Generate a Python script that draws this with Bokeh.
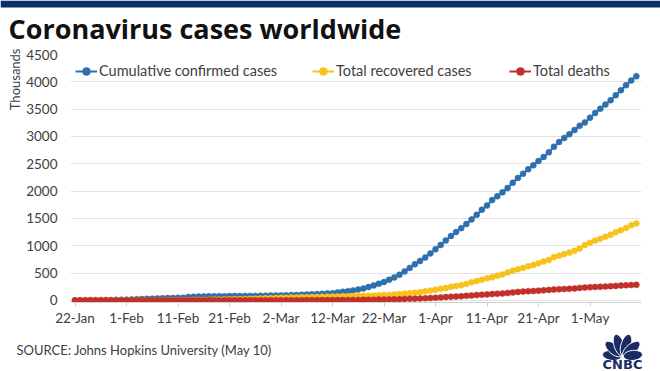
import math
from bokeh.plotting import figure
from bokeh.layouts import column
from bokeh.models import (ColumnDataSource, Legend, LegendItem, FixedTicker, Range1d, Title)
from bokeh.core.properties import value
from bokeh.embed import file_html
from bokeh.resources import INLINE

# ---------------- data (thousands, daily 22-Jan .. 10-May) ----------------
tick_days = [0, 10, 20, 30, 40, 50, 60, 70, 80, 90, 100]
tick_labels = ["22-Jan", "1-Feb", "11-Feb", "21-Feb", "2-Mar", "12-Mar",
               "22-Mar", "1-Apr", "11-Apr", "21-Apr", "1-May"]
y_ticks = [0, 500, 1000, 1500, 2000, 2500, 3000, 3500, 4000, 4500]

confirmed_jan = [0.555, 0.654, 0.941, 1.434, 2.118, 2.927, 5.578, 6.166, 8.234, 9.927]
confirmed_feb = [12.038, 16.787, 19.881, 23.892, 27.635, 30.794, 34.391, 37.120, 40.150, 42.762,
                 44.802, 45.221, 60.368, 66.885, 69.030, 71.224, 73.258, 75.136, 75.639, 76.197,
                 76.819, 78.572, 78.958, 79.561, 80.406, 81.388, 82.746, 84.112, 86.011]
confirmed_mar = [88.369, 90.306, 92.840, 95.120, 97.886, 101.801, 105.847, 109.821, 113.590, 118.620,
                 125.875, 128.352, 145.205, 156.101, 167.454, 181.574, 197.102, 214.821, 242.570, 272.208,
                 304.507, 336.953, 378.235, 418.045, 467.653, 529.591, 593.291, 660.706, 720.117, 782.365,
                 857.487]
confirmed_apr = [932.605, 1013.466, 1095.917, 1176.060, 1249.754, 1321.481, 1396.476, 1480.202, 1565.278, 1657.526,
                 1735.650, 1834.721, 1904.838, 1976.191, 2056.054, 2152.437, 2240.190, 2317.759, 2401.378, 2472.259,
                 2549.123, 2624.068, 2708.885, 2811.193, 2896.633, 2971.475, 3041.764, 3116.398, 3193.886, 3256.846]
confirmed_may = [3343.777, 3427.343, 3506.729, 3583.055, 3662.691, 3755.341, 3845.718, 3938.064, 4024.009, 4101.699]

recovered_jan = [0.028, 0.030, 0.036, 0.039, 0.052, 0.061, 0.107, 0.126, 0.143, 0.222]
recovered_feb = [0.284, 0.472, 0.623, 0.852, 1.124, 1.487, 2.011, 2.616, 3.244, 3.946,
                 4.683, 5.150, 6.295, 8.058, 9.395, 10.865, 12.583, 14.352, 16.121, 18.177,
                 18.890, 22.886, 23.394, 25.227, 27.905, 30.384, 33.277, 36.711, 39.782]
recovered_mar = [42.716, 45.602, 48.228, 51.170, 53.796, 55.865, 58.358, 60.694, 62.494, 64.404,
                 67.003, 68.324, 70.251, 72.624, 76.034, 78.088, 80.840, 83.207, 84.854, 87.256,
                 91.499, 97.704, 98.341, 107.890, 113.604, 121.966, 130.659, 138.949, 148.616, 164.100,
                 177.783]
recovered_apr = [193.753, 210.184, 225.624, 246.152, 259.840, 276.478, 299.999, 328.579, 353.921, 375.941,
                 402.110, 421.722, 448.564, 474.225, 511.008, 542.082, 568.368, 591.709, 623.847, 645.733,
                 679.926, 710.349, 738.860, 789.007, 817.406, 845.987, 873.622, 906.987, 948.416, 1013.820]
recovered_may = [1051.994, 1093.116, 1125.171, 1162.920, 1198.880, 1245.357, 1284.838, 1322.048, 1375.327, 1408.402]

deaths_jan = [0.017, 0.018, 0.026, 0.042, 0.056, 0.082, 0.131, 0.133, 0.171, 0.213]
deaths_feb = [0.259, 0.362, 0.426, 0.492, 0.564, 0.634, 0.719, 0.806, 0.906, 1.013,
              1.113, 1.118, 1.371, 1.523, 1.666, 1.770, 1.868, 2.007, 2.122, 2.247,
              2.251, 2.458, 2.469, 2.629, 2.708, 2.770, 2.814, 2.872, 2.941]
deaths_mar = [2.996, 3.085, 3.160, 3.254, 3.348, 3.460, 3.558, 3.802, 3.988, 4.262,
              4.615, 4.720, 5.404, 5.819, 6.440, 7.126, 7.905, 8.733, 9.867, 11.299,
              12.973, 14.623, 16.497, 18.615, 21.181, 23.970, 27.198, 30.652, 33.925, 37.582,
              42.107]
deaths_apr = [46.809, 52.983, 58.787, 64.606, 69.374, 74.565, 81.865, 88.338, 95.455, 102.525,
              108.502, 114.090, 119.482, 125.984, 134.177, 143.800, 153.821, 159.509, 165.044, 169.986,
              176.583, 183.066, 190.858, 197.159, 202.846, 206.544, 211.167, 217.153, 227.638, 233.388]
deaths_may = [238.650, 243.808, 247.470, 251.537, 257.239, 263.831, 269.567, 274.898, 279.311, 282.709]

confirmed = confirmed_jan + confirmed_feb + confirmed_mar + confirmed_apr + confirmed_may
recovered = recovered_jan + recovered_feb + recovered_mar + recovered_apr + recovered_may
deaths = deaths_jan + deaths_feb + deaths_mar + deaths_apr + deaths_may
days = list(range(len(confirmed)))

series_names = ["Cumulative confirmed cases", "Total recovered cases", "Total deaths"]
series_values = [confirmed, recovered, deaths]
series_colors = ["#2e6fad", "#f7c21c", "#c3302c"]

title_text = "Coronavirus cases worldwide"
source_text = "SOURCE: Johns Hopkins University (May 10)"

# ---------------- layout (page pixels) ----------------
W = 660
HEAD_H = 46          # header strip: bar + title
MAIN_TOP, MAIN_BOT = 46, 330
FOOT_H = 371 - MAIN_BOT
FL, FR, FT, FB = 70, 641, 54, 302.2   # plot frame in page pixels
FONT = "Lato"
TXT = "#404040"
NAVY = "#0c2d6b"


def free_frame(f):
    # keep each strip's frame independent of the others in the column
    if "frame_align" in f.properties():
        f.frame_align = False


# ---- header ----
head = figure(width=W, height=HEAD_H, output_backend="svg", toolbar_location=None,
              x_range=Range1d(0, W), y_range=Range1d(HEAD_H, 0),
              x_axis_type=None, y_axis_type=None,
              min_border=0, min_border_left=0, min_border_right=0,
              min_border_top=0, min_border_bottom=0)
free_frame(head)
head.outline_line_color = None
head.grid.visible = False
head.quad(left=[0], right=[W], top=[0], bottom=[7], fill_color=NAVY, line_color=None)
head.text(x=[8], y=[28], text=[title_text], text_font=value("Open Sans"),
          text_font_style="bold", text_font_size="27px", text_color="#111111",
          text_baseline="middle", text_align="left")

# ---- main chart ----
p = figure(width=W, height=MAIN_BOT - MAIN_TOP, output_backend="svg", toolbar_location=None,
           x_range=Range1d(-0.874, 110.0), y_range=Range1d(-40, 4500),
           min_border_left=FL, min_border_right=W - FR,
           min_border_top=int(FT - MAIN_TOP), min_border_bottom=int(round(MAIN_BOT - FB)))
free_frame(p)
p.outline_line_color = None
p.background_fill_color = "white"
p.border_fill_color = "white"

p.xaxis.ticker = FixedTicker(ticks=tick_days)
p.xaxis.major_label_overrides = {d: l for d, l in zip(tick_days, tick_labels)}
p.xaxis.minor_tick_line_color = None
p.xaxis.major_tick_out = 4
p.xaxis.major_tick_in = 0
p.xaxis.major_tick_line_color = "#d0d0d0"
p.xaxis.axis_line_color = "#d0d0d0"
p.xaxis.major_label_standoff = 3
p.xaxis.major_label_text_font = FONT
p.xaxis.major_label_text_font_size = "13.5px"
p.xaxis.major_label_text_color = TXT

p.yaxis.ticker = FixedTicker(ticks=y_ticks)
p.yaxis.axis_line_color = None
p.yaxis.major_tick_line_color = None
p.yaxis.minor_tick_line_color = None
p.yaxis.major_tick_out = 0
p.yaxis.major_tick_in = 0
p.yaxis.major_label_standoff = 13
p.yaxis.major_label_text_font = FONT
p.yaxis.major_label_text_font_size = "13.5px"
p.yaxis.major_label_text_color = TXT

p.xgrid.grid_line_color = None
p.ygrid.grid_line_color = "#e2e2e2"
p.ygrid.grid_line_width = 1

legend_x = [75, 312, 509]
for name, vals, col, lx in zip(series_names, series_values, series_colors, legend_x):
    src = ColumnDataSource(data=dict(x=days, y=vals))
    ln = p.line("x", "y", source=src, line_color=col, line_width=2)
    sc = p.scatter("x", "y", source=src, size=6, fill_color=col, line_color=col,
                   line_width=0.5, marker="circle")
    lg = Legend(items=[LegendItem(label=name, renderers=[ln, sc])],
                location=(lx - FL, FB - 81), orientation="horizontal",
                margin=0, padding=0, glyph_width=22, glyph_height=20,
                label_height=20, label_standoff=2, spacing=0,
                background_fill_alpha=0, border_line_color=None,
                label_text_font=FONT, label_text_font_size="14.5px",
                label_text_color=TXT)
    p.add_layout(lg, "center")

p.add_layout(Title(text="Thousands", align="right", offset=-6, vertical_align="middle",
                   standoff=0, text_font=FONT, text_font_style="normal",
                   text_font_size="13px", text_color=TXT), "left")

# ---- footer: source + logo ----
foot = figure(width=W, height=FOOT_H, output_backend="svg", toolbar_location=None,
              x_range=Range1d(0, W), y_range=Range1d(371, MAIN_BOT),
              x_axis_type=None, y_axis_type=None,
              min_border=0, min_border_left=0, min_border_right=0,
              min_border_top=0, min_border_bottom=0)
free_frame(foot)
foot.outline_line_color = None
foot.grid.visible = False
foot.text(x=[16], y=[349], text=[source_text], text_font=value(FONT),
          text_font_size="13px", text_color=TXT, text_baseline="middle", text_align="left")

logo_navy = "#1b2b63"
bx, by = 622, 356
pxs, pys = [], []
for ang, length in [(174, 19), (140, 21), (107, 22), (73, 22), (40, 21), (6, 19)]:
    a = math.radians(ang)
    ux, uy = math.cos(a), -math.sin(a)      # y grows downwards here
    cx0, cy0 = bx + ux * (length / 2 + 1), by + uy * (length / 2 + 1)
    xs, ys = [], []
    for k in range(32):
        t = 2 * math.pi * k / 32
        ex = math.cos(t) * length / 2
        ey = math.sin(t) * 5.0
        xs.append(cx0 + ex * ux - ey * uy)
        ys.append(cy0 + ex * uy + ey * ux)
    pxs.append(xs)
    pys.append(ys)
foot.patches(pxs, pys, fill_color=logo_navy, line_color="white", line_width=1)
foot.text(x=[622], y=[363.5], text=["CNBC"], text_font=value("DejaVu Sans"),
          text_font_style="bold", text_font_size="13px", text_color=logo_navy,
          text_baseline="middle", text_align="center")

layout = column(head, p, foot, spacing=0)
open("out.html", "w").write(file_html(layout, INLINE))
